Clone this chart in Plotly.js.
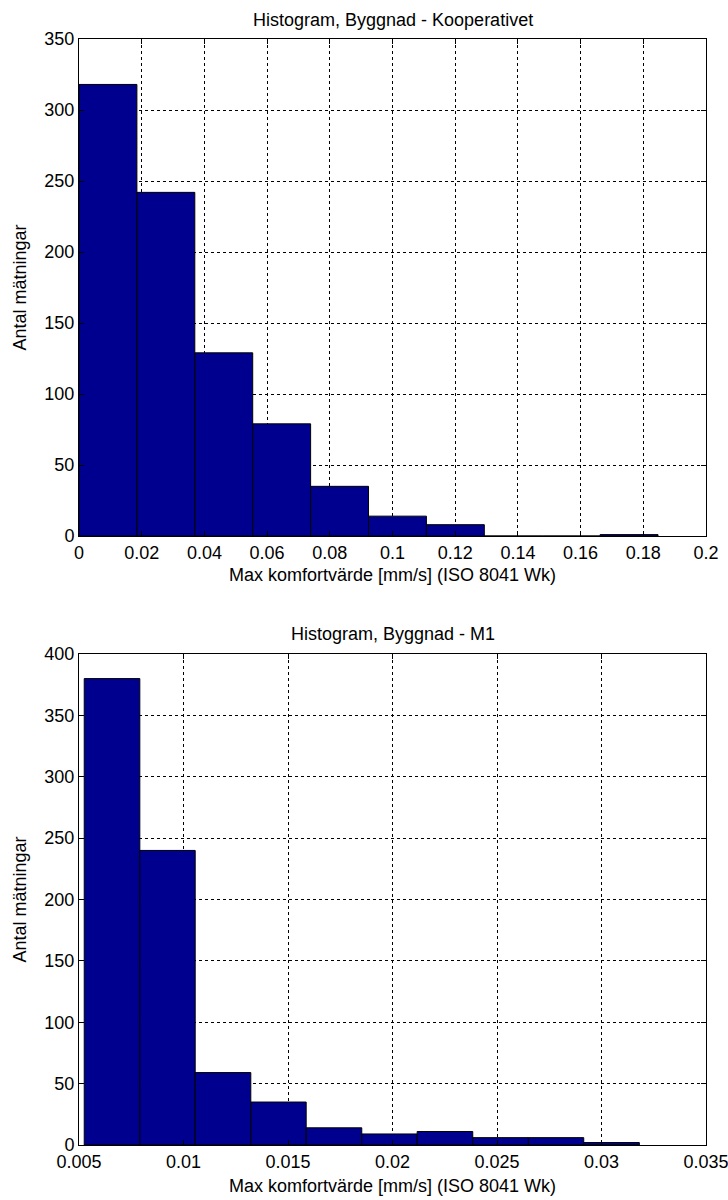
<!DOCTYPE html>
<html>
<head>
<meta charset="utf-8">
<script src="https://cdn.plot.ly/plotly-3.0.1.min.js"></script>
<style>html,body{margin:0;padding:0;background:#fff;}#chart{width:728px;height:1200px;}</style>
</head>
<body>
<div id="chart"></div>
<script>
// ---- Top histogram: Byggnad - Kooperativet ----
var topTitle = "Histogram, Byggnad - Kooperativet";
var topEdges = [0, 0.01847, 0.03694, 0.05541, 0.07388, 0.09235, 0.11082, 0.12929, 0.14776, 0.16623, 0.1847];
var topCounts = [318, 242, 129, 79, 35, 14, 8, 0, 0, 1];
var topTickVals = [0, 0.02, 0.04, 0.06, 0.08, 0.1, 0.12, 0.14, 0.16, 0.18, 0.2];
var topTickText = ["0", "0.02", "0.04", "0.06", "0.08", "0.1", "0.12", "0.14", "0.16", "0.18", "0.2"];
var topYTicks = [0, 50, 100, 150, 200, 250, 300, 350];

// ---- Bottom histogram: Byggnad - M1 ----
var botTitle = "Histogram, Byggnad - M1";
var botEdges = [0.00525, 0.00791, 0.01056, 0.01322, 0.01587, 0.01853, 0.02118, 0.02384, 0.02650, 0.02915, 0.03181];
var botCounts = [380, 240, 59, 35, 14, 9, 11, 6, 6, 2];
var botTickVals = [0.005, 0.01, 0.015, 0.02, 0.025, 0.03, 0.035];
var botTickText = ["0.005", "0.01", "0.015", "0.02", "0.025", "0.03", "0.035"];
var botYTicks = [0, 50, 100, 150, 200, 250, 300, 350, 400];

var xTitle = "Max komfortvärde [mm/s] (ISO 8041 Wk)";
var yTitle = "Antal mätningar";

function centers(e){ var c=[]; for(var i=0;i<e.length-1;i++) c.push((e[i]+e[i+1])/2); return c; }
function widths(e){ var w=[]; for(var i=0;i<e.length-1;i++) w.push(e[i+1]-e[i]); return w; }

var FONT = "Liberation Sans, Arial, Helvetica, sans-serif";
var FS = 18;
var barColor = "#00008F";

var traces = [
  {type:"bar", x:centers(topEdges), y:topCounts, width:widths(topEdges), xaxis:"x", yaxis:"y",
   marker:{color:barColor, line:{color:"#000", width:1}}, hoverinfo:"x+y"},
  {type:"bar", x:centers(botEdges), y:botCounts, width:widths(botEdges), xaxis:"x2", yaxis:"y2",
   marker:{color:barColor, line:{color:"#000", width:1}}, hoverinfo:"x+y"}
];

function ax(extra){
  var base = {
    showline:true, linecolor:"#000", linewidth:1, mirror:"ticks",
    ticks:"inside", ticklen:5, tickcolor:"#000", tickwidth:1,
    showgrid:true, gridcolor:"#000", griddash:"3px,3px", gridwidth:1,
    zeroline:false, tickmode:"array", automargin:false, ticklabeloverflow:"allow",
    tickfont:{family:FONT, size:FS, color:"#000"}, fixedrange:true
  };
  for (var k in extra) base[k]=extra[k];
  return base;
}

var layout = {
  width:728, height:1200,
  margin:{l:79, r:22, t:39, b:55},
  paper_bgcolor:"#fff", plot_bgcolor:"#fff",
  showlegend:false, bargap:0,
  font:{family:FONT, size:FS, color:"#000"},
  xaxis: ax({domain:[0,1], anchor:"y", range:[0,0.2], tickvals:topTickVals, ticktext:topTickText,
             title:{text:xTitle, font:{family:FONT,size:FS,color:"#000"}, standoff:6}}),
  yaxis: ax({domain:[0.5506,1], anchor:"x", range:[0,350], tickvals:topYTicks, ticktext:topYTicks.map(String),
             title:{text:yTitle, font:{family:FONT,size:FS,color:"#000"}, standoff:13}}),
  xaxis2: ax({domain:[0,1], anchor:"y2", range:[0.005,0.035], tickvals:botTickVals, ticktext:botTickText,
             title:{text:xTitle, font:{family:FONT,size:FS,color:"#000"}, standoff:8}}),
  yaxis2: ax({domain:[0,0.4439], anchor:"x2", range:[0,400], tickvals:botYTicks, ticktext:botYTicks.map(String),
             title:{text:yTitle, font:{family:FONT,size:FS,color:"#000"}, standoff:13}}),
  annotations:[
    {text:topTitle, xref:"paper", yref:"paper", x:0.5, y:1, yshift:7, xanchor:"center", yanchor:"bottom",
     showarrow:false, font:{family:FONT, size:FS, color:"#000"}},
    {text:botTitle, xref:"paper", yref:"paper", x:0.5, y:0.4439, yshift:8, xanchor:"center", yanchor:"bottom",
     showarrow:false, font:{family:FONT, size:FS, color:"#000"}}
  ]
};

Plotly.newPlot("chart", traces, layout, {staticPlot:true, displayModeBar:false});
</script>
</body>
</html>
